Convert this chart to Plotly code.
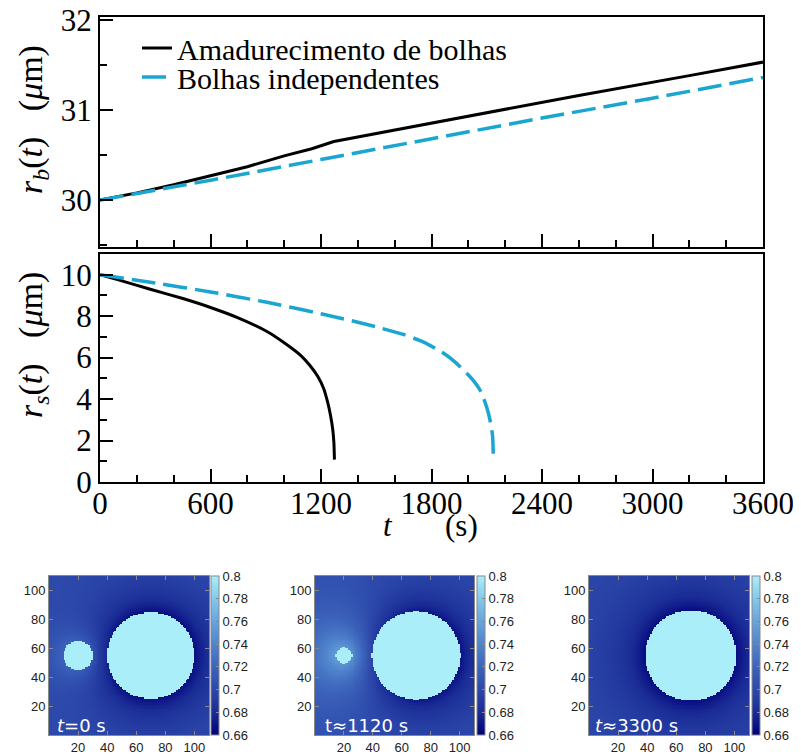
import numpy as np
import plotly.graph_objects as go

# ---------------- data ----------------
# r_b(t): big bubble radius (micrometres)
t_rb_amad = [0, 200, 400, 600, 800, 1000, 1150, 1270, 1400, 2000, 2600, 3200, 3600]
rb_amad = [30.0, 30.08, 30.17, 30.27, 30.37, 30.49, 30.57, 30.65, 30.70, 30.93, 31.16, 31.38, 31.53]
t_rb_ind = [0, 600, 1200, 1800, 2400, 3000, 3600]
rb_ind = [30.0, 30.22, 30.45, 30.68, 30.91, 31.13, 31.36]

# r_s(t): small bubble radius (micrometres)
t_rs_amad = [0, 100, 273, 450, 600, 750, 909, 1000, 1091, 1140, 1182, 1215, 1236, 1252, 1264, 1270, 1273]
rs_amad = [10.0, 9.75, 9.3, 8.85, 8.42, 7.92, 7.25, 6.72, 6.10, 5.62, 5.1, 4.5, 3.85, 3.2, 2.52, 1.9, 1.08]
t_rs_ind = [0, 300, 600, 900, 1200, 1450, 1647, 1760, 1864, 1930, 1991, 2030, 2063, 2090, 2109, 2122, 2132, 2136]
rs_ind = [10.0, 9.6, 9.17, 8.68, 8.12, 7.6, 7.12, 6.74, 6.22, 5.77, 5.25, 4.87, 4.44, 3.87, 3.32, 2.8, 2.19, 1.1]

series_names = ["Amadurecimento de bolhas", "Bolhas independentes"]
x_ticks = [0, 600, 1200, 1800, 2400, 3000, 3600]

# concentration snapshots
snap_labels = ["<i>t</i>=0 s", "t≈1120 s", "<i>t</i>≈3300 s"]
small_center = [20, 55]
big_center = [70, 55]
small_radius = [10.0, 5.7, 0.0]
big_radius = [30.0, 30.6, 31.4]
c_bubble = 0.8
c_far = [0.702, 0.702, 0.700]
glow_amp = [0.025, 0.06, 0.0]
glow_len = [11.0, 22.0, 1.0]
dark_amp = [0.036, 0.036, 0.034]
dark_len = [17.0, 17.0, 19.0]
grid_n = 110
cbar_vals = [0.66, 0.68, 0.70, 0.72, 0.74, 0.76, 0.78, 0.80]
cbar_text = ["0.66", "0.68", "0.7", "0.72", "0.74", "0.76", "0.78", "0.8"]
map_ticks = [20, 40, 60, 80, 100]

# ---------------- helpers ----------------
OFF = 8                       # page body margin of the html page
W, H = 801 - OFF, 756 - OFF
def fx(x): return (x - OFF) / W
def fy(y): return 1 - (y - OFF) / H

BLACK = "#000000"
CYAN = "#1aa6d0"
SERIF = "Liberation Serif"
SANS = "Liberation Sans"
NB = "\u00a0"

fig = go.Figure()

fig.add_trace(go.Scatter(x=t_rb_amad, y=rb_amad, mode="lines", name=series_names[0],
                         line=dict(color=BLACK, width=3), xaxis="x", yaxis="y", legend="legend"))
fig.add_trace(go.Scatter(x=t_rb_ind, y=rb_ind, mode="lines", name=series_names[1],
                         line=dict(color=CYAN, width=3.5, dash="24px,8px"), xaxis="x", yaxis="y", legend="legend2"))
fig.add_trace(go.Scatter(x=t_rs_amad, y=rs_amad, mode="lines", showlegend=False,
                         line=dict(color=BLACK, width=3, shape="spline", smoothing=0.5), xaxis="x2", yaxis="y2"))
fig.add_trace(go.Scatter(x=t_rs_ind, y=rs_ind, mode="lines", showlegend=False,
                         line=dict(color=CYAN, width=3.5, dash="24px,8px", shape="spline", smoothing=0.5),
                         xaxis="x2", yaxis="y2"))

# heatmaps
g = np.arange(grid_n) + 0.5
X, Y = np.meshgrid(g, g)
d_s = np.hypot(X - small_center[0], Y - small_center[1])
d_b = np.hypot(X - big_center[0], Y - big_center[1])

colorscale = [
    [0.0, "#000078"], [0.143, "#1a2c96"], [0.286, "#2c48aa"], [0.429, "#3c64bc"],
    [0.571, "#5084cc"], [0.714, "#68a4dc"], [0.857, "#84c8ec"], [1.0, "#aaeefa"],
]

map_x = [(49, 209), (315, 474), (589, 749)]
map_y = (576, 735)
cbar_x = [211, 477, 752]

for i in range(3):
    rs, rb = small_radius[i], big_radius[i]
    c = (c_far[i]
         + glow_amp[i] * np.exp(-np.clip(d_s - rs, 0, None) / glow_len[i])
         - dark_amp[i] * np.exp(-np.clip(d_b - rb, 0, None) / dark_len[i]))
    c = np.where(d_b <= rb, c_bubble, c)
    if rs > 0:
        c = np.where(d_s <= rs, c_bubble, c)
    c = np.clip(c, 0.66, 0.8)
    k = i + 3
    fig.add_trace(go.Heatmap(
        x=g, y=g, z=c, zmin=0.66, zmax=0.8, colorscale=colorscale, zsmooth=False,
        xaxis=f"x{k}", yaxis=f"y{k}", hoverinfo="skip",
        colorbar=dict(x=fx(cbar_x[i]), xanchor="left", xpad=0, y=fy(map_y[0]), yanchor="top",
                      ypad=0, len=(map_y[1] - map_y[0]) / H, lenmode="fraction", thickness=8,
                      outlinewidth=1, outlinecolor="#888888", tickvals=cbar_vals, ticktext=cbar_text,
                      ticks="inside", ticklen=3, tickcolor="#888888",
                      tickfont=dict(family=SANS, size=13, color="#222222")),
    ))

# ---------------- layout ----------------
main_axis = dict(showline=True, mirror=True, linecolor=BLACK, linewidth=2, showgrid=False,
                 zeroline=False, ticks="inside", tickcolor=BLACK, tickwidth=2, ticklen=13,
                 automargin=False, ticklabeloverflow="allow",
                 tickfont=dict(family=SERIF, size=31, color=BLACK))

layout = dict(
    width=W, height=H, margin=dict(l=0, r=0, t=0, b=0, autoexpand=False),
    paper_bgcolor="white", plot_bgcolor="white",
    xaxis=dict(main_axis, domain=[fx(100), fx(763)], anchor="y", range=[0, 3600],
               tickvals=x_ticks, showticklabels=False,
               minor=dict(dtick=200, tick0=0, ticks="inside", ticklen=7, tickwidth=2, tickcolor=BLACK)),
    yaxis=dict(main_axis, domain=[fy(247), fy(17)], anchor="x", range=[29.48, 32.03],
               tickmode="linear", tick0=30, dtick=1,
               minor=dict(dtick=0.5, tick0=29.5, ticks="inside", ticklen=7, tickwidth=2, tickcolor=BLACK)),
    xaxis2=dict(main_axis, domain=[fx(100), fx(763)], anchor="y2", range=[0, 3600],
                tickvals=x_ticks, ticklabelstandoff=-7,
                minor=dict(dtick=200, tick0=0, ticks="inside", ticklen=7, tickwidth=2, tickcolor=BLACK)),
    yaxis2=dict(main_axis, domain=[fy(482), fy(254)], anchor="x2", range=[0, 11],
                tickmode="linear", tick0=0, dtick=2,
                minor=dict(dtick=1, tick0=0, ticks="inside", ticklen=7, tickwidth=2, tickcolor=BLACK)),
    legend=dict(x=fx(137), y=fy(48), xanchor="left", yanchor="middle", bgcolor="rgba(0,0,0,0)",
                font=dict(family=SERIF, size=30, color=BLACK)),
    legend2=dict(x=fx(137), y=fy(77), xanchor="left", yanchor="middle", bgcolor="rgba(0,0,0,0)",
                 font=dict(family=SERIF, size=30, color=BLACK)),
)

map_axis = dict(showline=True, mirror="allticks", linecolor="#888888", linewidth=1, showgrid=False,
                zeroline=False, ticks="inside", ticklen=4, tickcolor="#888888", range=[0, grid_n],
                automargin=False,
                tickvals=map_ticks, tickfont=dict(family=SANS, size=13, color="#222222"))
for i in range(3):
    k = i + 3
    layout[f"xaxis{k}"] = dict(map_axis, domain=[fx(map_x[i][0]), fx(map_x[i][1])], anchor=f"y{k}")
    layout[f"yaxis{k}"] = dict(map_axis, domain=[fy(map_y[1]), fy(map_y[0])], anchor=f"x{k}")

gap = NB * 3
annotations = [
    dict(text=f"<i>r<sub>b</sub></i>(<i>t</i>){gap}(<i>μ</i>m)", textangle=-90, x=fx(33), y=fy(120),
         xref="paper", yref="paper", xanchor="center", yanchor="middle", showarrow=False,
         font=dict(family=SERIF, size=34, color=BLACK)),
    dict(text=f"<i>r<sub>s</sub></i>(<i>t</i>){gap}(<i>μ</i>m)", textangle=-90, x=fx(33), y=fy(345),
         xref="paper", yref="paper", xanchor="center", yanchor="middle", showarrow=False,
         font=dict(family=SERIF, size=34, color=BLACK)),
    dict(text="<i>t</i>", x=fx(388), y=fy(525), xref="paper", yref="paper", xanchor="center",
         yanchor="middle", showarrow=False, font=dict(family=SERIF, size=31, color=BLACK)),
    dict(text="(s)", x=fx(461), y=fy(525), xref="paper", yref="paper", xanchor="center",
         yanchor="middle", showarrow=False, font=dict(family=SERIF, size=31, color=BLACK)),
]
label_x = [55, 323, 593]
for i in range(3):
    annotations.append(dict(text=snap_labels[i], x=fx(label_x[i]), y=fy(725), xref="paper", yref="paper",
                            xanchor="left", yanchor="middle", showarrow=False,
                            font=dict(family="DejaVu Sans", size=18, color="white")))
layout["annotations"] = annotations

fig.update_layout(**layout)
fig.write_html("out.html")
